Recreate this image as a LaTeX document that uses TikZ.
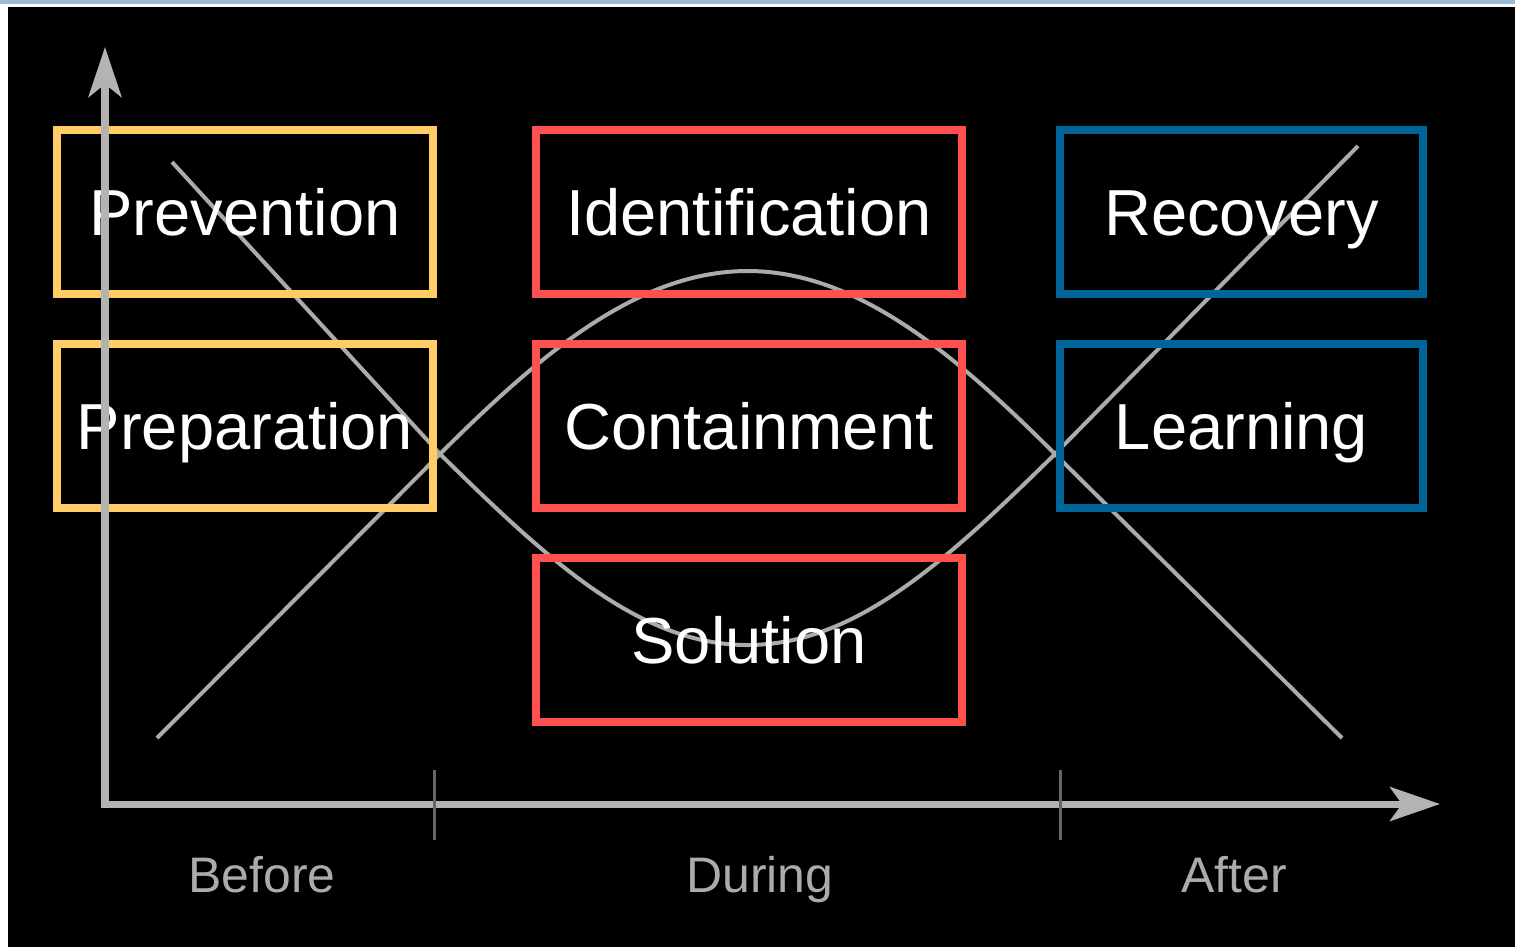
\documentclass[tikz,border=0pt]{standalone}
\usepackage{fontspec}
\setmainfont{Liberation Sans}
\usetikzlibrary{arrows.meta}
\usepackage{xcolor}

\definecolor{beforeyellow}{HTML}{FFCC66}
\definecolor{duringred}{HTML}{FF5050}
\definecolor{afterblue}{HTML}{006699}
\definecolor{axisgray}{HTML}{B3B3B3}
\definecolor{wavegray}{HTML}{ABABAB}
\definecolor{tickgray}{HTML}{666666}
\definecolor{frameblue}{HTML}{9BBAD5}

\tikzset{
  phasebox/.style={draw, line width=0.08cm, minimum height=1.63cm, inner sep=0pt,
    text=white, text height=0.47cm, text depth=0pt, font=\fontsize{18.5}{22}\selectfont},
  phaselabel/.style={text=wavegray, inner sep=0pt, text height=0.37cm, text depth=0pt,
    font=\fontsize{14.2}{17}\selectfont},
  wave/.style={wavegray, line width=0.04cm},
  axis/.style={axisgray, line width=0.07cm,
    {Stealth[length=0.5cm, width=0.33cm, inset=0.13cm]}-{Stealth[length=0.5cm, width=0.34cm, inset=0.12cm]}},
  phasetick/.style={tickgray, line width=0.03cm},
}

\begin{document}
\begin{tikzpicture}[x=0.01cm, y=-0.01cm]
            % frame and black canvas
            \fill[white] (0,0) rectangle (1515,947);
            \fill[black] (8,7) rectangle (1515,947);
            \fill[frameblue] (0,0) rectangle (1515,4);

            % the two crossing waves
            \draw[wave] (172,162) -- (440,454) .. controls (548,560) and (639,645) .. (747.5,645)
                .. controls (856,645) and (947,560) .. (1055,454) -- (1358,146);
            \draw[wave] (157,738) -- (440,454) .. controls (543,351) and (640,271) .. (747.5,271)
                .. controls (855,271) and (952,351) .. (1055,454) -- (1342,738);

            % before
            \node[phasebox, draw=beforeyellow, minimum width=3.76cm] (prevention) at (245,212) {Prevention};
            \node[phasebox, draw=beforeyellow, minimum width=3.76cm] (preparation) at (245,426) {Preparation};
            % during
            \node[phasebox, draw=duringred, minimum width=4.26cm] (identification) at (749,212) {Identification};
            \node[phasebox, draw=duringred, minimum width=4.26cm] (containment) at (749,426) {Containment};
            \node[phasebox, draw=duringred, minimum width=4.26cm] (solution) at (749,640) {Solution};
            % after
            \node[phasebox, draw=afterblue, minimum width=3.62cm] (recovery) at (1241.5,212) {Recovery};
            \node[phasebox, draw=afterblue, minimum width=3.62cm] (learning) at (1241.5,426) {Learning};

            % axes and ticks
            \draw[axis] (105,47) -- (105,804) -- (1440,804);
            \draw[phasetick] (434,770) -- (434,840);
            \draw[phasetick] (1060,770) -- (1060,840);

            \node[phaselabel] (before) at (262,873.5) {Before};
            \node[phaselabel] (during) at (760,873.5) {During};
            \node[phaselabel] (after) at (1234,873.5) {After};
        \end{tikzpicture}
\end{document}
